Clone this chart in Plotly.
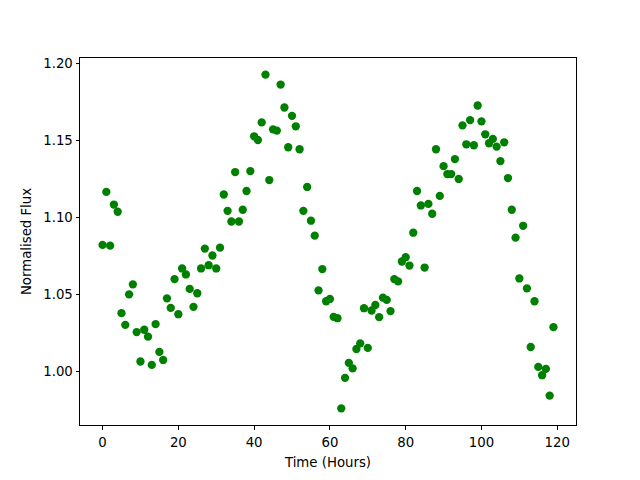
import plotly.graph_objects as go

hours = list(range(120))
flux = [
    1.0824, 1.1168, 1.0819, 1.1086, 1.1039, 1.0381, 1.0305, 1.0503, 1.0568, 1.0258,
    1.0067, 1.0273, 1.0228, 1.0045, 1.0310, 1.0129, 1.0077, 1.0477, 1.0415, 1.0602,
    1.0374, 1.0671, 1.0632, 1.0538, 1.0422, 1.0510, 1.0671, 1.0800, 1.0692, 1.0755,
    1.0671, 1.0806, 1.1151, 1.1045, 1.0976, 1.1297, 1.0976, 1.1052, 1.1174, 1.1303,
    1.1529, 1.1505, 1.1619, 1.1929, 1.1245, 1.1574, 1.1566, 1.1865, 1.1716, 1.1458,
    1.1662, 1.1594, 1.1445, 1.1045, 1.1200, 1.0981, 1.0884, 1.0529, 1.0667, 1.0458,
    1.0473, 1.0357, 1.0348, 0.9763, 0.9961, 1.0058, 1.0022, 1.0148, 1.0185, 1.0413,
    1.0155, 1.0398, 1.0434, 1.0355, 1.0482, 1.0467, 1.0394, 1.0602, 1.0587, 1.0716,
    1.0744, 1.0690, 1.0903, 1.1174, 1.1080, 1.0677, 1.1090, 1.1026, 1.1445, 1.1142,
    1.1335, 1.1284, 1.1284, 1.1381, 1.1252, 1.1600, 1.1477, 1.1634, 1.1471, 1.1729,
    1.1626, 1.1542, 1.1484, 1.1512, 1.1462, 1.1368, 1.1490, 1.1258, 1.1052, 1.0871,
    1.0606, 1.0948, 1.0542, 1.0161, 1.0458, 1.0032, 0.9978, 1.0019, 0.9845, 1.0290,
]
x_ticks = [0, 20, 40, 60, 80, 100, 120]
y_ticks = [1.00, 1.05, 1.10, 1.15, 1.20]

fig = go.Figure(go.Scatter(
    x=hours, y=flux, mode="markers",
    marker=dict(color="#008000", size=8.3, line=dict(width=0)),
))

xmin, xmax = min(hours), max(hours)
ymin, ymax = min(flux), max(flux)
xm = (xmax - xmin) * 0.05
ym = (ymax - ymin) * 0.05

axis_common = dict(
    showgrid=False, zeroline=False, showline=True, linecolor="black", linewidth=1,
    mirror=True, ticks="outside", ticklen=3.5, tickwidth=1, tickcolor="black",
    tickfont=dict(family="DejaVu Sans", size=13.3, color="black"),
)

fig.update_layout(
    width=640, height=480,
    margin=dict(l=80, r=64, t=58, b=53),
    paper_bgcolor="white", plot_bgcolor="white",
    showlegend=False,
    font=dict(family="DejaVu Sans", size=13.3, color="black"),
    xaxis=dict(
        range=[xmin - xm, xmax + xm], tickvals=x_ticks,
        ticklabelstandoff=2,
        title=dict(text="Time (Hours)", standoff=8,
                   font=dict(family="DejaVu Sans", size=13.3, color="black")),
        **axis_common,
    ),
    yaxis=dict(
        range=[ymin - ym, ymax + ym], tickvals=y_ticks, tickformat=".2f",
        title=dict(text="Normalised Flux", standoff=8,
                   font=dict(family="DejaVu Sans", size=13.3, color="black")),
        **axis_common,
    ),
)

fig.write_html(
    "out.html",
    config={"displayModeBar": False},
    post_script="document.body.style.margin='0';document.body.style.overflow='hidden';",
)
